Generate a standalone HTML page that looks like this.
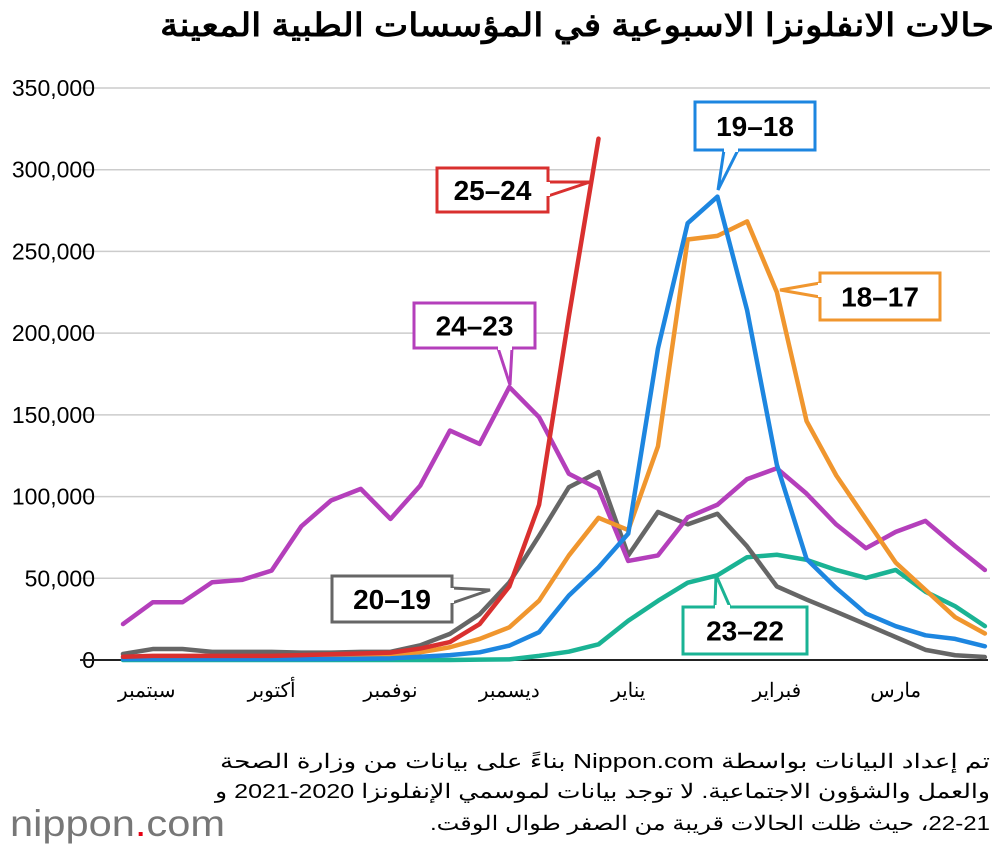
<!DOCTYPE html>
<html><head><meta charset="utf-8"><style>
body{margin:0;background:#fff;width:1000px;height:846px;overflow:hidden;font-family:"Liberation Sans","Noto Sans CJK SC",sans-serif}
</style></head><body>
<svg width="1000" height="846" xmlns="http://www.w3.org/2000/svg">
<text x="994" y="36" text-anchor="start" direction="rtl" font-size="32" font-weight="bold" fill="#000" textLength="834" lengthAdjust="spacingAndGlyphs">حالات الانفلونزا الاسبوعية في المؤسسات الطبية المعينة</text>
<g id="grid"></g><g id="lines"></g><g id="callouts"></g>
<text x="990" y="768" direction="rtl" text-anchor="start" font-size="20" textLength="770" lengthAdjust="spacingAndGlyphs">تم إعداد البيانات بواسطة Nippon.com بناءً على بيانات من وزارة الصحة</text>
<text x="990" y="798" direction="rtl" text-anchor="start" font-size="20" textLength="775" lengthAdjust="spacingAndGlyphs">والعمل والشؤون الاجتماعية. لا توجد بيانات لموسمي الإنفلونزا 2020-2021 و</text>
<text x="990" y="830" direction="rtl" text-anchor="start" font-size="20" textLength="560" lengthAdjust="spacingAndGlyphs">22-21، حيث ظلت الحالات قريبة من الصفر طوال الوقت.</text>
<text x="10" y="836" font-size="37" fill="#777" textLength="215" lengthAdjust="spacingAndGlyphs">nippon<tspan fill="#e60012">.</tspan>com</text>
</svg>
<script>
const yTicks=[0,50000,100000,150000,200000,250000,300000,350000];
const monthLabels=["سبتمبر","أكتوبر","نوفمبر","ديسمبر","يناير","فبراير","مارس"];
const monthPos=[0.8,5,9,13,17,22,26];
const s2324=[22000,35300,35300,47600,49000,54700,81800,97600,104700,86300,106700,140400,132200,167000,148600,114000,104700,60600,64000,87300,95000,110700,117300,101800,82900,68400,78400,85100,69600,55100];
const s2425=[2000,2500,2500,2500,2500,2500,3000,3500,4000,4500,7000,11000,22000,45000,95000,210000,319000];
const s2019=[3700,6700,6700,5000,5000,5000,4500,4500,5000,5000,9000,16000,28000,47500,76000,105700,115000,64000,90600,83000,89500,69500,45000,37000,29500,21800,14000,6200,2900,1800];
const s1918=[500,500,500,500,500,500,500,600,800,1000,2000,3000,4700,8800,17000,39400,56700,77300,190600,267300,283500,214000,119500,61800,44000,28400,20700,15100,12900,8400];
const s1817=[1500,1500,1500,1500,1500,1500,1500,2000,2500,3000,4700,7800,12900,20000,36300,63900,87000,79500,130700,257300,259500,268400,225100,146200,112900,86200,59600,42900,26200,16200];
const s2322=[0,0,0,0,0,0,0,0,0,0,0,0,200,400,2500,5100,9600,24000,36200,47300,51800,62900,64400,61300,55100,50200,55100,41800,32900,20700];
const NS="http://www.w3.org/2000/svg";
const X=i=>123+i*29.72, Y=v=>660-v*572/350000;
function mk(t,a,p){const e=document.createElementNS(NS,t);for(const k in a)e.setAttribute(k,a[k]);(p||document.getElementById('grid')).appendChild(e);return e;}
yTicks.forEach(v=>{
 if(v>0){const l=mk('line',{x1:80,x2:990,y1:Y(v),y2:Y(v),stroke:'#ccc','stroke-width':1.5});
 
 }
 const t=mk('text',{x:95,y:Y(v)+8,'text-anchor':'end','font-size':23});t.textContent=v.toLocaleString('en-US');
 
 
});
const ax=mk('line',{x1:80,x2:988,y1:660,y2:660,stroke:'#222','stroke-width':2});


monthLabels.forEach((m,i)=>{const t=mk('text',{x:X(monthPos[i]),y:697,'text-anchor':'middle','font-size':20});t.textContent=m;
 
 });
const series=[[s2322,'#1ab394','series-2023-22'],[s2019,'#666','series-2020-19'],[s2324,'#b43fbb','series-2024-23'],[s1817,'#f0962e','series-2018-17'],[s1918,'#1d86e0','series-2019-18'],[s2425,'#d9302f','series-2025-24']];
const lg=document.getElementById('lines');
series.forEach(([d,c,n])=>{const p=mk('polyline',{points:d.map((v,i)=>X(i)+','+Y(v)).join(' '),fill:'none',stroke:c,'stroke-width':4.5,'stroke-linejoin':'round','stroke-linecap':'round'},lg);
 
 });
const cg=document.getElementById('callouts');
function callout(label,c,x,y,w,h,b1,b2,tip,name){
 const g=mk('g',{},cg);
 
 
 mk('rect',{x:x,y:y,width:w,height:h,fill:'#fff',stroke:c,'stroke-width':3},g);
 mk('polyline',{points:b1.join(',')+' '+tip.join(',')+' '+b2.join(','),fill:'#fff',stroke:c,'stroke-width':3},g);
 mk('line',{x1:b1[0],y1:b1[1],x2:b2[0],y2:b2[1],stroke:'#fff','stroke-width':4},g);
 const t=mk('text',{x:x+w/2,y:y+h/2+10,'text-anchor':'middle','font-size':28,'font-weight':'bold'},g);t.textContent=label;
}
callout('25–24','#d9302f',437,168,111,44,[548,182],[548,196],[590,182],'callout-2025-24');
callout('19–18','#1d86e0',695,102,120,48,[724,150],[738,150],[718,190],'callout-2019-18');
callout('24–23','#b43fbb',414,303,121,45,[498,348],[512,348],[510,385],'callout-2024-23');
callout('18–17','#f0962e',820,273,120,47,[820,283],[820,297],[780,290],'callout-2018-17');
callout('20–19','#666',332,576,120,46,[452,588],[452,603],[490,590],'callout-2020-19');
callout('23–22','#1ab394',683,607,124,47,[715,607],[730,607],[716,575],'callout-2023-22');
</script>
</body></html>
